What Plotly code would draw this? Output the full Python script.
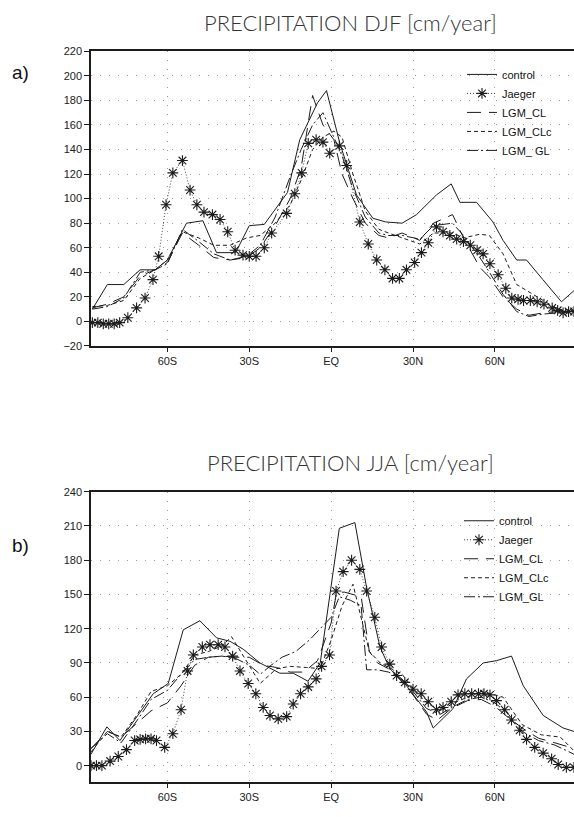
import plotly.graph_objects as go

# ---------------- DJF (panel a) ----------------
djf_control_lat = [-87.5, -82, -76, -70, -64.5, -60, -53, -47, -42, -35, -30, -24.5, -16, -11.5, -5, -1.7,
                   3.2, 9.3, 15.3, 20, 26, 31.3, 38.6, 44, 47.2, 53.3, 59.3, 63, 68, 71.6, 77.6, 84.4, 89]
djf_control = [10, 30, 30, 42, 42, 50, 80, 82, 56, 56, 78, 79, 105, 148, 178, 188,
               145, 103, 84, 81, 80, 87, 103, 112, 97, 97, 81, 66, 50, 50, 34, 16, 25]

djf_jaeger_lat = [-87.5, -85.5, -83.5, -81.5, -79.5, -77.5, -74.5, -71.3, -68.2, -65.3, -63.2, -60.5, -58, -54.5,
                  -51.7, -49.2, -46.6, -43.5, -40.7, -37.9, -35.2, -32.3, -30, -27.5, -24.5, -21.8, -16.3, -13.3,
                  -10.8, -8.4, -5.5, -3, -0.5, 3, 5.7, 10.5, 13.6, 16.7, 19.7, 22.5, 25, 27.6, 30.6, 33.1, 35.6,
                  38.6, 41, 43.5, 46, 48.5, 51, 53.5, 55.7, 58.2, 61.2, 64, 66.2, 68.5, 70.5, 73, 75.5, 78, 81,
                  83, 85, 87, 89]
djf_jaeger = [-1, -1, -2, -2, -2, -1, 3, 11, 19, 34, 53, 95, 121, 131,
              107, 95, 89, 87, 83, 73, 58, 54, 53, 53, 60, 72, 88, 104,
              121, 145, 148, 146, 137, 143, 127, 81, 63, 50, 42, 35, 35, 42, 48, 56, 64,
              77, 73, 70, 67, 65, 62, 58, 55, 47, 38, 27, 19, 18, 17, 17, 16, 14, 11,
              9, 7, 8, 8]

djf_cl_lat = [-87.5, -82, -76, -70, -64.5, -60, -54.5, -48.5, -43, -37, -31, -26, -20.5, -15, -11, -6.8, -3, 1,
              4, 8, 12.5, 17.5, 21, 26, 32.5, 37.5, 44.5, 48.5, 54.5, 58, 63, 68, 72.5, 78, 83, 89]
djf_cl = [11, 14, 20, 37, 42, 48, 72, 62, 52, 50, 52, 60, 78, 100, 125, 184, 160, 148,
          120, 100, 80, 70, 68, 72, 66, 80, 87, 68, 44, 36, 20, 10, 5, 7, 8, 9]

djf_clc_lat = djf_cl_lat
djf_clc = [12, 13, 17, 35, 42, 50, 73, 68, 62, 62, 68, 70, 80, 95, 115, 140, 150, 155,
           150, 120, 90, 75, 72, 68, 63, 72, 72, 68, 71, 70, 55, 30, 24, 16, 10, 9]

djf_gl_lat = djf_cl_lat
djf_gl = [10, 12, 19, 40, 42, 47, 75, 65, 55, 50, 53, 62, 85, 118, 140, 160, 170, 150,
          135, 108, 85, 72, 70, 70, 67, 78, 80, 70, 52, 40, 22, 8, 4, 6, 7, 8]

# ---------------- JJA (panel b) ----------------
jja_control_lat = [-88, -82.2, -77.4, -70, -65.2, -59.7, -54.2, -48.1, -42, -37.1, -32.2, -26.1, -18.8, -13.9,
                   -8.5, -4, 3, 8.7, 13, 17.9, 21.5, 27, 31.3, 35, 37.4, 44.7, 49.6, 55.7, 60.6, 66.1, 70.4,
                   77.7, 85, 89]
jja_control = [10, 34, 22, 47, 63, 72, 119, 127, 112, 109, 102, 90, 81, 81,
               74, 90, 208, 213, 156, 104, 85, 72, 59, 47, 33, 50, 76, 90, 92, 96, 70,
               44, 33, 30]

jja_jaeger_lat = [-88, -86, -84, -81, -78, -75, -72, -70, -68, -66, -64, -61, -58, -55, -52.6, -50.5, -47.2,
                  -44.4, -41.4, -38.9, -36.1, -33.4, -30.4, -27.6, -24.9, -22.4, -19.4, -16.3, -13.9, -11.2,
                  -8.4, -5.5, -3.5, -0.6, 1.8, 4.4, 7.5, 10.5, 13, 16, 18.5, 21.5, 24, 27, 30, 33, 35.6, 38.6,
                  41, 44, 46.5, 49, 51.5, 54, 56, 58.2, 60.6, 63.6, 66.1, 69.1, 71.6, 74.6, 77.7, 80.8, 83.2,
                  86.2, 89]
jja_jaeger = [0, 0, 0, 4, 8, 14, 22, 23, 23.5, 23.5, 22, 16, 28, 49, 83, 97, 104,
              106, 106, 104, 96, 83, 72, 63, 51, 44, 41, 43, 54, 63,
              69, 76, 87, 97, 153, 170, 180, 172, 153, 130, 104, 89, 79, 73, 67, 63, 56, 49,
              51, 56, 62, 63, 63, 63, 63, 62, 57, 49, 40, 31, 23, 16, 11, 6, 1,
              -1.5, -1.5]

jja_cl_lat = [-88, -82, -77, -71, -66, -60, -55, -50, -45, -40, -35, -30, -25, -20, -15, -10, -5, 0, 2, 5, 8,
              11, 14, 17, 21, 25, 30, 35, 39, 44, 50, 55, 60, 65, 70, 76, 82, 89]
jja_cl = [15, 30, 25, 38, 48, 55, 70, 88, 95, 96, 95, 95, 88, 86, 82, 82, 92, 125, 152, 152, 150,
          148, 100, 90, 85, 76, 62, 45, 40, 50, 57, 58, 52, 42, 33, 24, 20, 15]

jja_clc_lat = [-88, -82, -77, -71, -66, -60, -55, -50, -45, -40, -36.5, -32, -26, -20, -15, -9, -4, 0, 4, 8,
               11, 14, 18, 22, 26, 30, 35, 40, 45, 50, 55, 60, 63, 70, 77, 84, 89]
jja_clc = [12, 30, 25, 45, 65, 70, 80, 97, 100, 105, 113, 95, 72, 85, 87, 86, 85, 110, 140, 159,
           130, 100, 90, 85, 80, 68, 55, 48, 55, 60, 65, 62, 60, 36, 27, 25, 13]

jja_gl_lat = [-88, -82, -77, -71, -66, -60, -55, -50, -45, -40, -35, -30, -26, -22, -18, -13, -8, -4, 0, 3, 7,
              11, 13, 17, 21, 25, 30, 35, 40, 45, 50, 55, 60, 65, 70, 76, 82, 89]
jja_gl = [15, 28, 20, 40, 58, 66, 80, 93, 95, 96, 94, 88, 80, 88, 95, 100, 110, 120, 130, 148, 145,
          140, 84, 84, 82, 78, 65, 50, 45, 52, 58, 60, 55, 45, 30, 22, 18, 10]

lat_ticks = [-60, -30, 0, 30, 60]
lat_labels = ["60S", "30S", "EQ", "30N", "60N"]
names_a = ["control", "Jaeger", "LGM_CL", "LGM_CLc", "LGM_ GL"]
names_b = ["control", "Jaeger", "LGM_CL", "LGM_CLc", "LGM_GL"]

INK = "#1c1c1c"
styles = [
    dict(mode="lines", line=dict(color=INK, width=1, dash="solid")),
    dict(mode="lines+markers", line=dict(color="#444", width=1, dash="1px,2px"),
         marker=dict(symbol="asterisk-open", size=9, color=INK, line=dict(width=1.1, color=INK))),
    dict(mode="lines", line=dict(color=INK, width=1, dash="14px,8px")),
    dict(mode="lines", line=dict(color=INK, width=1, dash="4px,3px")),
    dict(mode="lines", line=dict(color=INK, width=1, dash="11px,3px,2px,3px")),
]

fig = go.Figure()
panel_a = [(djf_control_lat, djf_control), (djf_jaeger_lat, djf_jaeger), (djf_cl_lat, djf_cl),
           (djf_clc_lat, djf_clc), (djf_gl_lat, djf_gl)]
panel_b = [(jja_control_lat, jja_control), (jja_jaeger_lat, jja_jaeger), (jja_cl_lat, jja_cl),
           (jja_clc_lat, jja_clc), (jja_gl_lat, jja_gl)]

for (x, y), nm, st in zip(panel_a, names_a, styles):
    fig.add_trace(go.Scatter(x=x, y=y, name=nm, xaxis="x", yaxis="y", legend="legend", **st))
for (x, y), nm, st in zip(panel_b, names_b, styles):
    fig.add_trace(go.Scatter(x=x, y=y, name=nm, xaxis="x2", yaxis="y2", legend="legend2", **st))

W, H = 574, 817
def py(px):
    return 1 - px / H

tickfont = dict(family="Liberation Sans Narrow, Arial Narrow, sans-serif", size=11, color="#222")
xcommon = dict(range=[-88, 89], tickvals=lat_ticks, ticktext=lat_labels, showline=True, linecolor=INK,
               linewidth=1.5, mirror=True, ticks="outside", ticklen=4, tickcolor=INK, showgrid=True,
               gridcolor="#9a9a9a", griddash="1px,8px", gridwidth=1, zeroline=False, tickfont=tickfont,
               domain=[91 / W, 1])
ycommon = dict(showline=True, linecolor=INK, linewidth=1.5, ticks="outside", ticklen=5, tickcolor=INK,
               showgrid=True, gridcolor="#9a9a9a", griddash="1px,8px", gridwidth=1, zeroline=False,
               tickfont=tickfont)

legfont = dict(family="Liberation Sans, Arial, sans-serif", size=11, color="#111")
fig.update_layout(
    width=W, height=H, margin=dict(l=0, r=0, t=0, b=0),
    paper_bgcolor="white", plot_bgcolor="white",
    xaxis=dict(**xcommon, anchor="y"),
    yaxis=dict(**ycommon, range=[-20, 220], dtick=20, domain=[py(345), py(46)], anchor="x"),
    xaxis2=dict(**xcommon, anchor="y2"),
    yaxis2=dict(**ycommon, range=[-14.7, 240], tickvals=[0, 30, 60, 90, 120, 150, 180, 210, 240],
                domain=[py(788), py(493)], anchor="x2"),
    legend=dict(x=462 / W, y=py(108), xanchor="left", yanchor="middle", bgcolor="rgba(0,0,0,0)",
                font=legfont, borderwidth=0),
    legend2=dict(x=459 / W, y=py(561), xanchor="left", yanchor="middle", bgcolor="rgba(0,0,0,0)",
                 font=legfont, borderwidth=0),
    showlegend=True,
)

titlefont = dict(family="Lato, Noto Sans, sans-serif", size=22, color="#333", weight=300)
fig.add_annotation(text="PRECIPITATION DJF [cm/year]", x=350 / W, y=py(17), xref="paper", yref="paper",
                   showarrow=False, font=titlefont, xanchor="center", yanchor="middle")
fig.add_annotation(text="PRECIPITATION JJA [cm/year]", x=350 / W, y=py(463), xref="paper", yref="paper",
                   showarrow=False, font=titlefont, xanchor="center", yanchor="middle")
labfont = dict(family="Liberation Sans, Arial, sans-serif", size=19, color="#111")
fig.add_annotation(text="a)", x=10 / W, y=py(67), xref="paper", yref="paper", showarrow=False,
                   font=labfont, xanchor="left", yanchor="middle")
fig.add_annotation(text="b)", x=10 / W, y=py(548), xref="paper", yref="paper", showarrow=False,
                   font=labfont, xanchor="left", yanchor="middle")

fig.write_html("out.html")
